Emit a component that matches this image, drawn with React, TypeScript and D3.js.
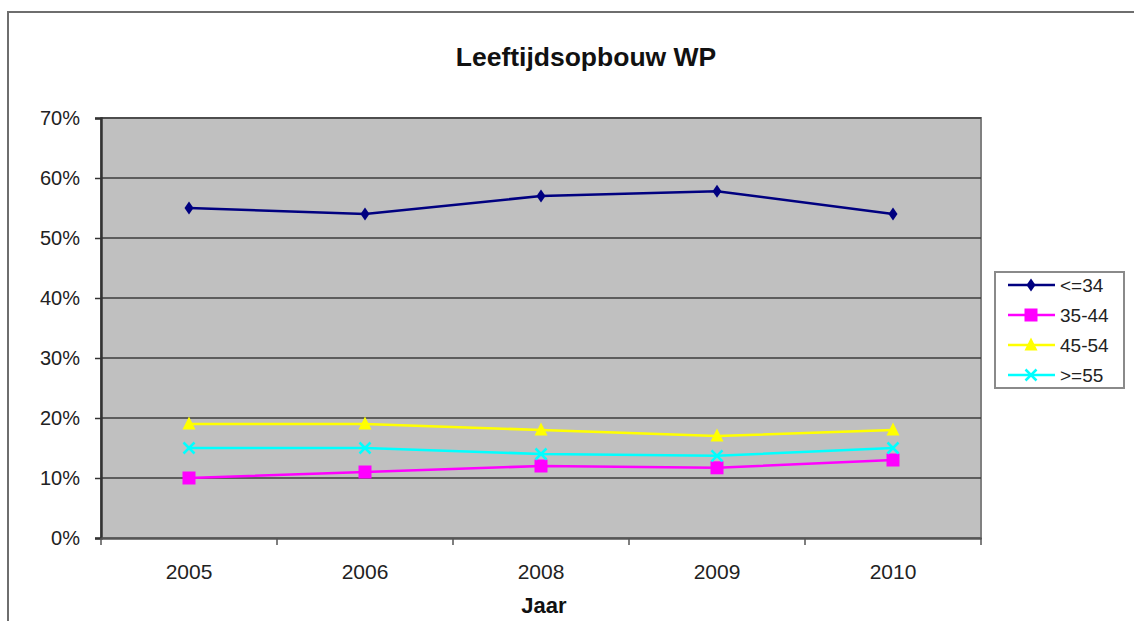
import * as d3 from "d3";
import { useEffect, useRef } from "react";

const years = ["2005", "2006", "2008", "2009", "2010"];
const ageGroups = ["<=34", "35-44", "45-54", ">=55"];
const young = [55, 54, 57, 57.8, 54];
const mid = [10, 11, 12, 11.7, 13];
const senior = [19, 19, 18, 17, 18];
const oldest = [15, 15, 14, 13.7, 15];
const yTicks = [0, 10, 20, 30, 40, 50, 60, 70];

const colors = ["#000080", "#ff00ff", "#ffff00", "#00ffff"];
const markers = ["diamond", "square", "triangle", "cross"];

interface ISeries {
  name: string;
  values: number[];
  color: string;
  marker: string;
}

const series: ISeries[] = [young, mid, senior, oldest].map((values, i) => ({
  name: ageGroups[i],
  values,
  color: colors[i],
  marker: markers[i],
}));

const drawMarker = (
  g: d3.Selection<SVGGElement, unknown, null, undefined>,
  kind: string,
  color: string,
  x: number,
  y: number
) => {
  if (kind === "diamond") {
    g.append("path")
      .attr("d", `M${x},${y - 6.5}L${x + 4.5},${y}L${x},${y + 6.5}L${x - 4.5},${y}Z`)
      .attr("fill", color);
  } else if (kind === "square") {
    g.append("rect")
      .attr("x", x - 6.5)
      .attr("y", y - 6.5)
      .attr("width", 13)
      .attr("height", 13)
      .attr("fill", color);
  } else if (kind === "triangle") {
    g.append("path")
      .attr("d", `M${x},${y - 7.5}L${x + 6.5},${y + 5.5}L${x - 6.5},${y + 5.5}Z`)
      .attr("fill", color);
  } else {
    g.append("path")
      .attr("d", `M${x - 5.5},${y - 5.5}L${x + 5.5},${y + 5.5}M${x + 5.5},${y - 5.5}L${x - 5.5},${y + 5.5}`)
      .attr("stroke", color)
      .attr("stroke-width", 2.5);
  }
};

const Chart = () => {
  const ref = useRef<SVGSVGElement>(null);

  useEffect(() => {
    const width = 1134;
    const height = 621;
    const plot = { left: 101, right: 981, top: 118, bottom: 538 };

    const svg = d3.select(ref.current);
    svg.selectAll("*").remove();
    svg
      .attr("width", width)
      .attr("height", height)
      .attr("style", "position:absolute;left:0;top:0;font-family:'Liberation Sans', Arial, sans-serif;");

    svg.append("rect").attr("width", width).attr("height", height).attr("fill", "#fff");

    // outer chart frame
    svg
      .append("rect")
      .attr("x", 8)
      .attr("y", 12)
      .attr("width", width + 20)
      .attr("height", height + 20)
      .attr("fill", "none")
      .attr("stroke", "#6e6e6e")
      .attr("stroke-width", 2);

    const x = d3.scaleBand().domain(years).range([plot.left, plot.right]);
    const y = d3.scaleLinear().domain([0, 70]).range([plot.bottom, plot.top]);

    svg
      .append("rect")
      .attr("x", plot.left)
      .attr("y", plot.top)
      .attr("width", plot.right - plot.left)
      .attr("height", plot.bottom - plot.top)
      .attr("fill", "#c0c0c0")
      .attr("stroke", "#808080")
      .attr("stroke-width", 2);

    // gridlines
    svg
      .append("g")
      .selectAll("line")
      .data(yTicks.slice(1))
      .join("line")
      .attr("x1", plot.left)
      .attr("x2", plot.right)
      .attr("y1", (d) => y(d))
      .attr("y2", (d) => y(d))
      .attr("stroke", "#3c3c3c")
      .attr("stroke-width", 1.5);

    // y axis
    const yAxis = svg
      .append("g")
      .attr("transform", `translate(${plot.left},0)`)
      .call(
        d3
          .axisLeft(y)
          .tickValues(yTicks)
          .tickSize(6)
          .tickPadding(15)
          .tickFormat((d) => `${d}%`)
      );
    yAxis.select(".domain").attr("stroke", "#333").attr("stroke-width", 2.5);
    yAxis.selectAll(".tick line").attr("stroke", "#333").attr("stroke-width", 1.5);
    yAxis
      .selectAll(".tick text")
      .attr("font-size", 20)
      .attr("fill", "#222")
      .attr("font-family", "'Liberation Sans', Arial, sans-serif");

    // x axis
    const xAxis = svg
      .append("g")
      .attr("transform", `translate(0,${plot.bottom})`)
      .call(d3.axisBottom(x).tickSize(0).tickPadding(26));
    xAxis.select(".domain").attr("stroke", "#555").attr("stroke-width", 2.5);
    xAxis
      .selectAll(".tick text")
      .attr("font-size", 21)
      .attr("fill", "#222")
      .attr("font-family", "'Liberation Sans', Arial, sans-serif");
    xAxis
      .selectAll("line.sep")
      .data(d3.range(years.length + 1))
      .join("line")
      .attr("class", "sep")
      .attr("x1", (i) => plot.left + i * x.bandwidth())
      .attr("x2", (i) => plot.left + i * x.bandwidth())
      .attr("y1", 0)
      .attr("y2", 7)
      .attr("stroke", "#555")
      .attr("stroke-width", 1.5);

    const cx = (i: number) => (x(years[i]) as number) + x.bandwidth() / 2;

    const line = d3
      .line<number>()
      .x((_, i) => cx(i))
      .y((d) => y(d));

    series.forEach((s) => {
      const g = svg.append("g");
      g.append("path")
        .attr("d", line(s.values))
        .attr("fill", "none")
        .attr("stroke", s.color)
        .attr("stroke-width", 2.5);
      s.values.forEach((v, i) => drawMarker(g, s.marker, s.color, cx(i), y(v)));
    });

    // title
    svg
      .append("text")
      .attr("x", 586)
      .attr("y", 66)
      .attr("text-anchor", "middle")
      .attr("font-size", 26.5)
      .attr("font-weight", "bold")
      .attr("fill", "#111")
      .text("Leeftijdsopbouw WP");

    svg
      .append("text")
      .attr("x", 544)
      .attr("y", 613)
      .attr("text-anchor", "middle")
      .attr("font-size", 22)
      .attr("font-weight", "bold")
      .attr("fill", "#111")
      .text("Jaar");

    // legend
    const legend = svg.append("g");
    legend
      .append("rect")
      .attr("x", 995)
      .attr("y", 272)
      .attr("width", 129)
      .attr("height", 116)
      .attr("fill", "#fff")
      .attr("stroke", "#8a8a8a")
      .attr("stroke-width", 2);
    series.forEach((s, i) => {
      const ly = 285 + i * 30;
      const g = legend.append("g");
      g.append("line")
        .attr("x1", 1008)
        .attr("x2", 1055)
        .attr("y1", ly)
        .attr("y2", ly)
        .attr("stroke", s.color)
        .attr("stroke-width", 2.5);
      drawMarker(g, s.marker, s.color, 1031, ly);
      g.append("text")
        .attr("x", 1060)
        .attr("y", ly + 7)
        .attr("font-size", 19)
        .attr("fill", "#222")
        .text(s.name);
    });
  }, []);

  return <svg ref={ref}></svg>;
};

export default function App() {
  return <Chart />;
}
